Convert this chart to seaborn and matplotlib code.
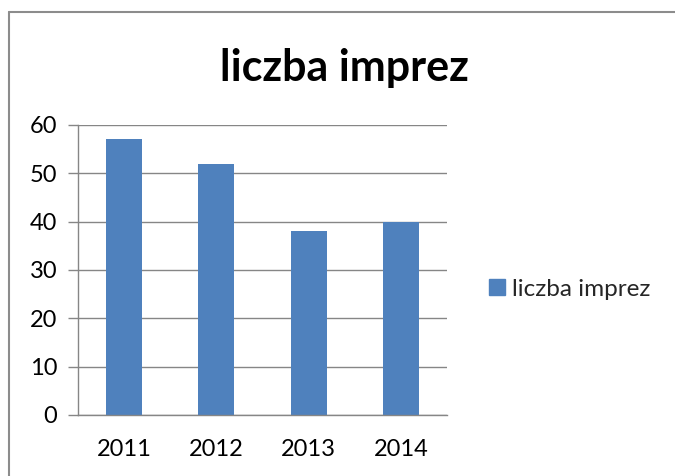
import matplotlib
matplotlib.use("Agg")
import matplotlib.pyplot as plt
from matplotlib.lines import Line2D
import seaborn as sns
import pandas as pd

years = ["2011", "2012", "2013", "2014"]
counts = [57, 52, 38, 40]
series = "liczba imprez"
y_ticks = [0, 10, 20, 30, 40, 50, 60]

BAR = "#4F81BD"
GRID = "#868686"

sns.set_theme(style="white")
plt.rcParams["font.family"] = ["Lato", "DejaVu Sans"]

df = pd.DataFrame({"rok": years, "liczba": counts, "seria": [series] * len(years)})

fig = plt.figure(figsize=(6.75, 4.76), dpi=100)
ax = fig.add_axes([0.1156, 0.1282, 0.5467, 0.6092])

sns.barplot(data=df, x="rok", y="liczba", hue="seria", palette=[BAR],
            width=0.39, ax=ax, saturation=1, linewidth=0, legend=False)

ax.set_xlim(-0.5, len(years) - 0.5)
ax.set_ylim(0, 60)
ax.set_yticks(y_ticks)
ax.set_xlabel("")
ax.set_ylabel("")

# gridlines + axes, Excel look
ax.yaxis.grid(True, color=GRID, lw=1)
ax.set_axisbelow(True)
for s in ["top", "right"]:
    ax.spines[s].set_visible(False)
for s in ["left", "bottom"]:
    ax.spines[s].set_color(GRID)
    ax.spines[s].set_linewidth(1)

ax.set_xticks([i - 0.5 for i in range(len(years) + 1)], minor=True)
ax.tick_params(axis="x", which="major", length=0, pad=17, labelsize=17, colors="black")
ax.tick_params(axis="x", which="minor", length=7, width=1, color=GRID, direction="out")
ax.tick_params(axis="y", length=7, width=1, color=GRID, direction="out",
               left=True, pad=8, labelsize=17, colors="black")
for lbl in ax.get_xticklabels() + ax.get_yticklabels():
    lbl.set_color("black")

# legend on the right
ax.legend(handles=[Line2D([], [], marker="s", ls="", color=BAR, markersize=11)],
          labels=[series], loc="center left",
          bbox_to_anchor=(480 / 675, 1 - 289 / 476),
          bbox_transform=fig.transFigure, frameon=False, fontsize=17.5,
          handlelength=0.6, handletextpad=0.3, borderaxespad=0)

fig.text(344 / 675, 1 - 68 / 476, "liczba imprez", ha="center", va="center",
         fontsize=31, fontweight="bold", color="black")

# chart border (top and left edges visible)
fig.add_artist(Line2D([9 / 675, 1], [1 - 12 / 476, 1 - 12 / 476],
                      transform=fig.transFigure, color="#8C8C8C", lw=1.5))
fig.add_artist(Line2D([9 / 675, 9 / 675], [0, 1 - 12 / 476],
                      transform=fig.transFigure, color="#8C8C8C", lw=1.5))

fig.savefig("out.png", dpi=100)
